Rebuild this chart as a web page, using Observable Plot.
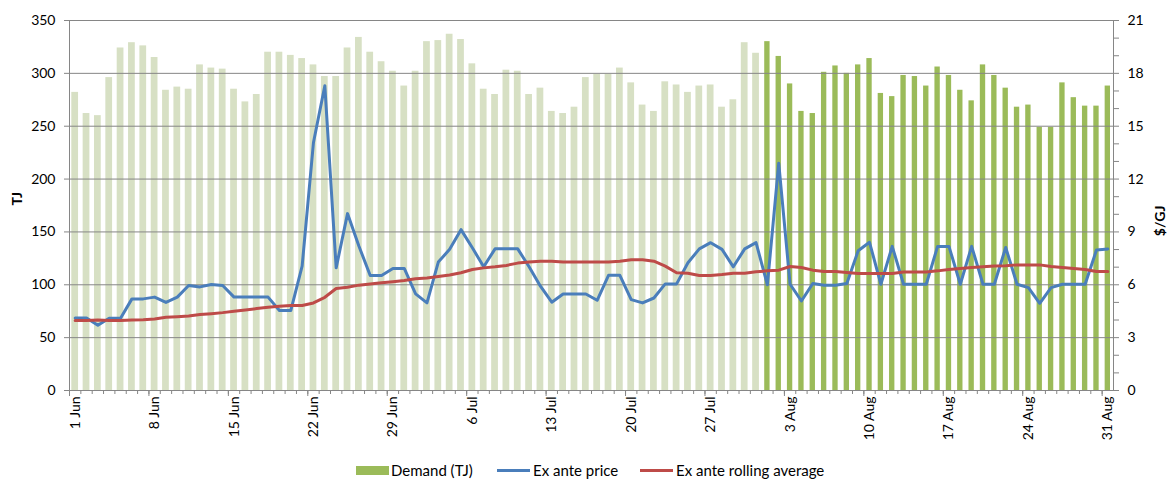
<!DOCTYPE html>
<html>
<head>
<meta charset="utf-8">
<script src="https://cdn.jsdelivr.net/npm/d3@7"></script>
<script src="https://cdn.jsdelivr.net/npm/@observablehq/plot@0.6"></script>
<style>
  html, body { margin: 0; padding: 0; background: #fff; }
  body { width: 1169px; height: 479px; overflow: hidden; font-family: Lato, "Noto Sans", sans-serif; position: relative; }
  #legend { position: absolute; left: 0; top: 460px; width: 1169px; height: 20px; font-size: 15px; color: #000; }
  .sw { position: absolute; }
  .lt { position: absolute; top: 0; line-height: 20px; white-space: nowrap; }
</style>
</head>
<body>
<div id="chart"></div>
<div id="legend"></div>
<script>
// ---- data ----
const year = 2009;
const demandJun = [282,262,260,296,324,329,326,315,284,287,285,308,305,304,285,273,280,320,320,317,314,308,297,297,324,334,320,311,302,288];
const demandJul = [302,330,331,337,332,309,285,280,303,302,280,286,264,262,268,296,299,299,305,291,270,264,292,289,282,288,289,268,275,329,319];
const demandAug = [330,316,290,264,262,301,307,300,308,314,281,278,298,297,288,306,298,284,274,308,298,286,268,270,249,249,291,277,269,269,288];

const priceJun = [4.12,4.12,3.70,4.10,4.10,5.20,5.20,5.30,5.00,5.30,5.96,5.88,6.02,5.96,5.30,5.30,5.30,5.30,4.54,4.54,7.06,14.08,17.30,6.96,10.04,8.20,6.53,6.53,6.93,6.93];
const priceJul = [5.48,4.97,7.29,8.01,9.13,8.10,7.02,8.04,8.04,8.04,7.02,5.92,5.01,5.48,5.48,5.48,5.12,6.54,6.54,5.16,4.97,5.25,6.05,6.05,7.25,8.04,8.39,8.01,7.02,8.04,8.39];
const priceAug = [6.00,12.90,6.03,5.08,6.07,5.97,5.97,6.07,7.93,8.41,6.03,8.18,6.03,6.03,6.03,8.18,8.18,6.03,8.18,6.03,6.03,8.12,6.03,5.84,4.95,5.84,6.03,6.03,6.03,7.97,8.03];

const avgJun = [3.97,3.97,4.00,3.97,3.97,4.00,4.02,4.06,4.16,4.19,4.23,4.31,4.36,4.42,4.50,4.57,4.65,4.72,4.78,4.82,4.82,4.97,5.29,5.79,5.86,5.98,6.05,6.11,6.17,6.24];
const avgJul = [6.34,6.39,6.47,6.55,6.68,6.87,6.96,7.02,7.10,7.23,7.29,7.34,7.34,7.29,7.29,7.29,7.29,7.29,7.34,7.42,7.42,7.34,7.06,6.68,6.66,6.53,6.53,6.58,6.66,6.66,6.74];
const avgAug = [6.79,6.83,7.04,6.98,6.83,6.75,6.75,6.70,6.64,6.64,6.64,6.64,6.73,6.73,6.73,6.79,6.87,6.92,6.98,7.02,7.06,7.08,7.13,7.13,7.13,7.04,6.98,6.92,6.87,6.75,6.75];

const leftTicks = [0,50,100,150,200,250,300,350];
const rightTicks = d3.range(0, 22, 1);   // $/GJ, labels every 3
const tjMax = 350, priceMax = 21;

const seriesNames = ["Demand (TJ)", "Ex ante price", "Ex ante rolling average"];
const colors = { pale: "#d7e0c4", bright: "#9bbb59", price: "#4a7ebb", avg: "#be4b48", grid: "#868686" };

// ---- build table ----
const demand = [...demandJun, ...demandJul, ...demandAug];
const price = [...priceJun, ...priceJul, ...priceAug];
const avg = [...avgJun, ...avgJul, ...avgAug];
const dates = d3.utcDay.range(new Date(Date.UTC(year, 5, 1)), new Date(Date.UTC(year, 8, 1)));
const k = tjMax / priceMax;
const rows = dates.map((d, i) => ({ date: d, demand: demand[i], price: price[i] * k, avg: avg[i] * k, month: d.getUTCMonth(), i }));
const fmt = d3.utcFormat("%-d %b");
const labelDates = dates.filter((d, i) => i % 7 === 0);

const W = 1169, H = 455, mL = 69, mR = 56, mT = 20, mB = 65;
const bw = (W - mL - mR) / dates.length;
const pxPerTJ = (H - mT - mB) / tjMax;

const chart = Plot.plot({
  width: W, height: H,
  marginLeft: mL, marginRight: mR, marginTop: mT, marginBottom: mB,
  style: { fontFamily: "Lato, 'Noto Sans', sans-serif", fontSize: "14px", color: "#000", background: "#fff" },
  x: { type: "band", domain: dates, padding: 0, label: null },
  y: { domain: [0, tjMax], label: null },
  marks: [
    Plot.barY(rows.filter(r => r.month < 7), { x: "date", y: "demand", fill: colors.pale, insetLeft: 2.3, insetRight: 2.3 }),
    Plot.barY(rows.filter(r => r.month === 7), { x: "date", y: "demand", fill: colors.bright, insetLeft: 3, insetRight: 3 }),
    Plot.gridY(leftTicks, { stroke: colors.grid, strokeOpacity: 1 }),
    Plot.frame({ stroke: colors.grid }),
    // day tick marks on category boundaries
    Plot.ruleX(dates, { x: d => d, y1: 0, y2: -4 / pxPerTJ, dx: -bw / 2, stroke: colors.grid }),
    Plot.ruleX(labelDates, { x: d => d, y1: 0, y2: -6 / pxPerTJ, dx: -bw / 2, stroke: colors.grid }),
    Plot.axisX(labelDates, { anchor: "bottom", tickSize: 0, tickPadding: 6, tickRotate: -90, tickFormat: fmt, label: null, fill: "#000", fontSize: 14 }),
    Plot.axisY(leftTicks, { anchor: "left", tickSize: 5, tickPadding: 9, label: null, stroke: colors.grid, fill: "#000", fontSize: 14 }),
    Plot.axisY(rightTicks.map(v => v * k), { anchor: "right", tickSize: 5, tickPadding: 9, label: null, stroke: colors.grid, fill: "#000", fontSize: 14,
      tickFormat: v => { const p = Math.round(v / k); return p % 3 === 0 ? String(p) : ""; } }),
    Plot.text(["TJ"], { frameAnchor: "left", dx: -52, rotate: -90, fontWeight: "bold", fontSize: 14, fill: "#000" }),
    Plot.text(["$/GJ"], { frameAnchor: "right", dx: 47, rotate: -90, fontWeight: "bold", fontSize: 14, fill: "#000" }),
    Plot.line(rows, { x: "date", y: "price", stroke: colors.price, strokeWidth: 3 }),
    Plot.line(rows, { x: "date", y: "avg", stroke: colors.avg, strokeWidth: 3 })
  ]
});
document.getElementById("chart").appendChild(chart);

// ---- legend ----
const legend = d3.select("#legend");
const items = [
  { name: seriesNames[0], kind: "box", color: colors.bright, sx: 356, tx: 391 },
  { name: seriesNames[1], kind: "line", color: colors.price, sx: 497, tx: 533 },
  { name: seriesNames[2], kind: "line", color: colors.avg, sx: 640, tx: 676 }
];
items.forEach(it => {
  legend.append("span").attr("class", "sw")
    .style("left", it.sx + "px")
    .style("width", "33px")
    .style("top", it.kind === "box" ? "6px" : "9px")
    .style("height", it.kind === "box" ? "9px" : "3px")
    .style("background", it.color);
  legend.append("span").attr("class", "lt").style("left", it.tx + "px").text(it.name);
});
</script>
</body>
</html>
